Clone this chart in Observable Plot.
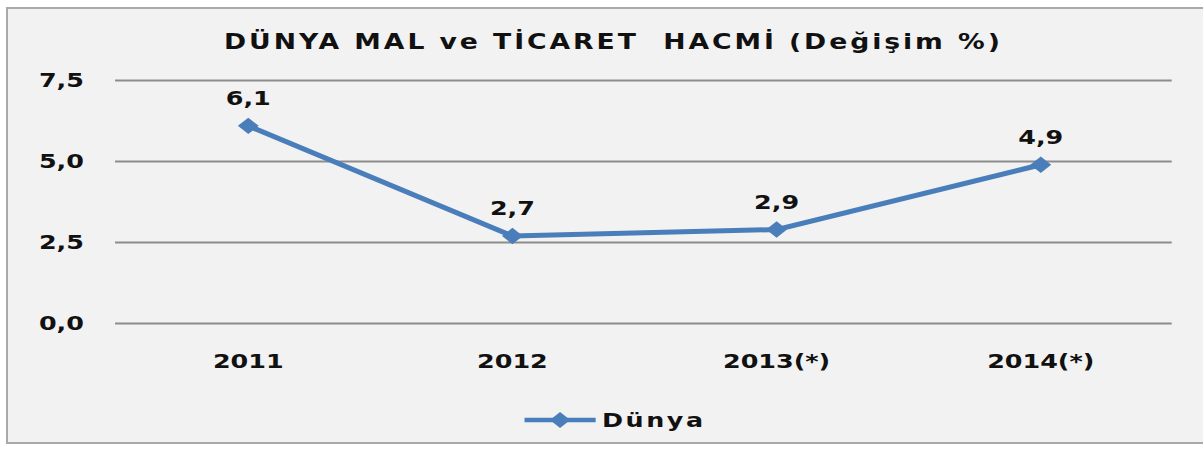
<!DOCTYPE html>
<html>
<head>
<meta charset="utf-8">
<script src="https://cdn.jsdelivr.net/npm/d3@7"></script>
<script src="https://cdn.jsdelivr.net/npm/@observablehq/plot@0.6"></script>
<style>
  html, body { margin: 0; padding: 0; background: #ffffff; }
  body { width: 1203px; height: 450px; position: relative; overflow: hidden; font-family: "DejaVu Sans", Verdana, sans-serif; }
  #frame { position: absolute; left: 6px; top: 7px; width: 1220px; height: 437px; border: 2px solid #a9a9a9; background: #f2f2f2; box-sizing: border-box; }
  #wrap { position: absolute; left: 0; top: 0; width: 947px; height: 450px; transform: scaleX(1.27); transform-origin: 0 0; }
  #title { position: absolute; left: 0; top: 30px; width: 947px; padding-left: 19px; box-sizing: border-box; text-align: center; font-weight: bold; font-size: 21px; letter-spacing: 2.3px; line-height: 24px; color: #111; white-space: pre; }
  #chart { position: absolute; left: 0; top: 62px; }
  #legend { position: absolute; left: 412px; top: 408px; height: 24px; display: flex; align-items: center; font-weight: bold; font-size: 20px; letter-spacing: 2px; color: #111; }
</style>
</head>
<body>
<div id="frame"></div>
<div id="wrap">
  <div id="title">DÜNYA MAL ve TİCARET  HACMİ (Değişim %)</div>
  <div id="chart"></div>
  <div id="legend"></div>
</div>
<script>
const categories = ["2011", "2012", "2013(*)", "2014(*)"];
const values = [6.1, 2.7, 2.9, 4.9];
const valueLabels = ["6,1", "2,7", "2,9", "4,9"];
const yTicks = [0, 2.5, 5, 7.5];
const seriesName = "Dünya";

const data = categories.map((c, i) => ({cat: c, value: values[i], label: valueLabels[i]}));
const blue = "#4a7ebb";

const chart = Plot.plot({
  width: 947,
  height: 320,
  marginTop: 18,
  marginBottom: 59,
  marginLeft: 90.6,
  marginRight: 24.4,
  style: {background: "transparent", fontFamily: "'DejaVu Sans', Verdana, sans-serif", fontWeight: "bold", fontSize: "20px", color: "#111"},
  x: {type: "point", domain: categories, padding: 0.5, label: null, tickSize: 0, tickPadding: 30},
  y: {domain: [0, 7.5], ticks: yTicks, tickFormat: d => d.toFixed(1).replace(".", ","), label: null, tickSize: 0, tickPadding: 25},
  marks: [
    Plot.gridY(yTicks, {stroke: "#8c8c8c", strokeOpacity: 1, strokeWidth: 2}),
    Plot.line(data, {x: "cat", y: "value", stroke: blue, strokeWidth: 5}),
    Plot.dot(data, {x: "cat", y: "value", symbol: "diamond2", r: 7.4, fill: blue, stroke: "none"}),
    Plot.text(data, {x: "cat", y: "value", text: "label", dy: -27, fontSize: 20, fontWeight: "bold", fill: "#111"})
  ]
});
document.getElementById("chart").appendChild(chart);

const legend = document.getElementById("legend");
legend.innerHTML = `<svg width="58" height="24" style="margin-right:4px"><line x1="1" y1="12" x2="57" y2="12" stroke="${blue}" stroke-width="4.5"/><path d="M29,4 L37,12 L29,20 L21,12 Z" fill="${blue}"/></svg><span>${seriesName}</span>`;
</script>
</body>
</html>
